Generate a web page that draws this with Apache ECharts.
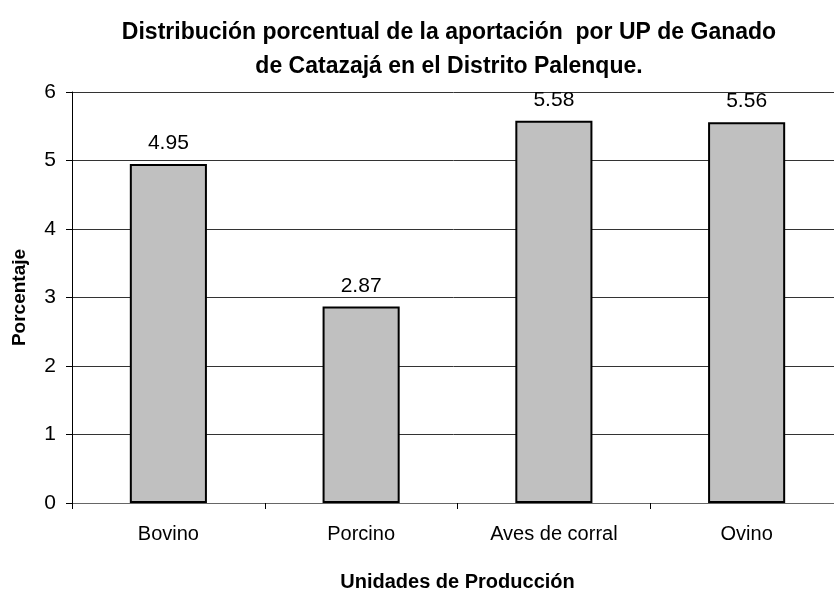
<!DOCTYPE html>
<html><head><meta charset="utf-8">
<script src="https://cdn.jsdelivr.net/npm/echarts@6/dist/echarts.min.js"></script>
<style>html,body{margin:0;padding:0;background:#fff}#c{width:834px;height:591px}</style>
</head><body><div id="c"></div>
<script>
const categories = ["Bovino", "Porcino", "Aves de corral", "Ovino"];
const values = [4.95, 2.87, 5.58, 5.56];
const yTicks = [0, 1, 2, 3, 4, 5, 6];

const chart = echarts.init(document.getElementById('c'));
const F = 'Liberation Sans, Arial, sans-serif';
chart.setOption({
  animation: false,
  backgroundColor: '#fff',
  title: {
    text: 'Distribución porcentual de la aportación  por UP de Ganado\nde Catazajá en el Distrito Palenque.',
    left: 444, top: 11, textAlign: 'center',
    textStyle: { fontFamily: F, fontSize: 23, fontWeight: 'bold', color: '#000', lineHeight: 34 }
  },
  grid: { left: 72, top: 92, width: 771, height: 411, containLabel: false, outerBoundsMode: 'none' },
  xAxis: {
    type: 'category', data: categories,
    axisLine: { lineStyle: { color: '#666', width: 1 } },
    axisTick: { show: true, length: 6, alignWithLabel: false, lineStyle: { color: '#000' } },
    axisLabel: { fontFamily: F, fontSize: 20, color: '#000', margin: 21 },
    name: 'Unidades de Producción', nameLocation: 'middle', nameGap: 69,
    nameTextStyle: { fontFamily: F, fontSize: 20, fontWeight: 'bold', color: '#000' }
  },
  yAxis: {
    type: 'value', min: yTicks[0], max: yTicks[yTicks.length - 1], interval: 1,
    axisLine: { show: true, lineStyle: { color: '#000', width: 1 } },
    axisTick: { show: true, length: 6, lineStyle: { color: '#000' } },
    axisLabel: { fontFamily: F, fontSize: 21, color: '#000', margin: 16 },
    splitLine: { show: true, lineStyle: { color: '#333', width: 1 } },
    name: 'Porcentaje', nameLocation: 'middle', nameGap: 43,
    nameTextStyle: { fontFamily: F, fontSize: 19, fontWeight: 'bold', color: '#000' }
  },
  series: [{
    type: 'bar', data: values, barWidth: '40%',
    itemStyle: { color: '#C0C0C0', borderColor: '#000', borderWidth: 2 },
    label: { show: true, position: 'top', distance: 10, fontFamily: F, fontSize: 21, color: '#000',
      formatter: p => p.value.toFixed(2) }
  }]
});
</script></body></html>
